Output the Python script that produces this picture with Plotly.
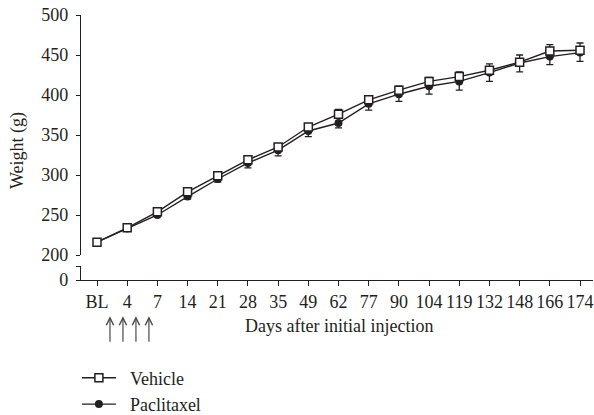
import plotly.graph_objects as go

# Body weight over time, vehicle vs paclitaxel
days = ["BL", "4", "7", "14", "21", "28", "35", "49", "62", "77", "90",
        "104", "119", "132", "148", "166", "174"]
vehicle = [216, 234, 254, 279, 299, 319, 335, 360, 376, 394, 406,
           417, 423, 431, 441, 455, 456]
vehicle_sem = [2, 2, 2, 3, 3, 3, 3, 4, 6, 5, 5, 5, 6, 8, 9, 8, 9]
paclitaxel = [216, 233, 250, 273, 295, 315, 331, 355, 365, 389, 401,
              411, 417, 428, 440, 448, 453]
paclitaxel_sem = [2, 2, 2, 3, 4, 6, 7, 7, 6, 8, 9, 10, 11, 11, 11, 10, 11]

# injection days marked under the axis (category-index positions)
injection_pos = [0.43, 0.86, 1.29, 1.72]

ink = "#231f20"
font_family = "Liberation Serif"
zeros = [0] * len(days)

fig = go.Figure()

fig.add_trace(go.Scatter(
    x=days, y=paclitaxel, name="\u00a0\u00a0Paclitaxel", mode="lines+markers",
    line=dict(color=ink, width=1.4),
    marker=dict(symbol="circle", size=8, color=ink),
    error_y=dict(type="data", symmetric=False, array=zeros,
                 arrayminus=paclitaxel_sem, color=ink, thickness=1.3, width=3.5),
))
fig.add_trace(go.Scatter(
    x=days, y=vehicle, name="\u00a0\u00a0Vehicle", mode="lines+markers",
    line=dict(color=ink, width=1.4),
    marker=dict(symbol="square", size=8, color="white",
                line=dict(color=ink, width=1.5)),
    error_y=dict(type="data", symmetric=False, array=vehicle_sem,
                 arrayminus=zeros, color=ink, thickness=1.3, width=3.5),
))
# empty trace that keeps the lower (broken) segment of the y axis alive
fig.add_trace(go.Scatter(
    x=days[:1], y=[None], yaxis="y2", mode="markers",
    showlegend=False, hoverinfo="skip",
))

axis_font = dict(family=font_family, size=18, color=ink)

fig.update_layout(
    width=594, height=415,
    margin=dict(l=81, r=1, t=15, b=135, autoexpand=False),
    plot_bgcolor="white", paper_bgcolor="white",
    font=axis_font,
    showlegend=True,
    legend=dict(x=-0.008, y=-0.3, xanchor="left", yanchor="top",
                traceorder="reversed", font=axis_font,
                bgcolor="rgba(0,0,0,0)", itemwidth=34),
    xaxis=dict(
        type="category", range=[-0.53, 16.43], anchor="y2",
        showline=True, linecolor=ink, linewidth=1.3,
        ticks="outside", ticklen=5, tickwidth=1.2, tickcolor=ink,
        showgrid=False, zeroline=False, tickfont=axis_font,
    ),
    yaxis=dict(
        domain=[25 / 265, 1], range=[200, 500],
        tickvals=[200, 250, 300, 350, 400, 450, 500],
        showline=True, linecolor=ink, linewidth=1.3,
        ticks="outside", ticklen=4, tickwidth=1.2, tickcolor=ink,
        showgrid=False, zeroline=False, tickfont=axis_font,
        ticklabelstandoff=4,
    ),
    yaxis2=dict(
        domain=[0, 14 / 265], range=[0, 1],
        tickvals=[0, 1], ticktext=["0", ""],
        showline=True, linecolor=ink, linewidth=1.3,
        ticks="outside", ticklen=4, tickwidth=1.2, tickcolor=ink,
        showgrid=False, zeroline=False, tickfont=axis_font,
        ticklabelstandoff=4,
    ),
)

annotations = [
    dict(text="Days after initial injection", xref="paper", yref="paper",
         x=0.504, y=-0.174, xanchor="center", yanchor="middle",
         showarrow=False, font=axis_font),
    dict(text="Weight (g)", xref="paper", yref="paper",
         x=-0.123, y=0.487, xanchor="center", yanchor="middle",
         textangle=-90, showarrow=False, font=axis_font),
]
for pos in injection_pos:
    annotations.append(dict(
        x=pos, y=-0.137, xref="x", yref="paper", text="",
        showarrow=True, arrowhead=5, arrowsize=1.2, arrowwidth=1.2,
        arrowcolor="#4a4a4a", ax=0, ay=27, axref="pixel", ayref="pixel",
    ))
fig.update_layout(annotations=annotations)

fig.write_html("out.html")
